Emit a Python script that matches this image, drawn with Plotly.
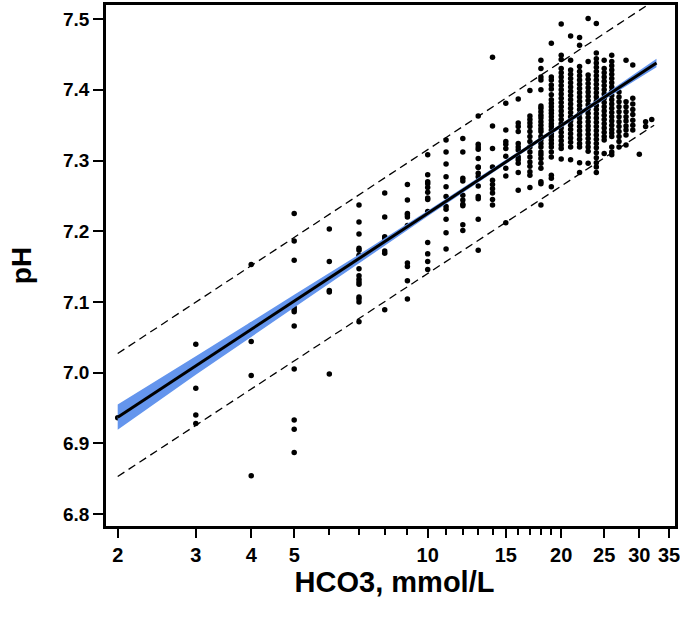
import plotly.graph_objects as go

# ---------------- data ----------------
hco3_levels = [2, 3, 4, 5, 6, 7, 8, 9, 10, 11, 12, 13, 14, 15, 16, 17, 18, 19,
               20, 21, 22, 23, 24, 25, 26, 27, 28, 29, 30, 31, 32]

ph_2 = [6.936]
ph_3 = [7.040, 7.017, 6.978, 6.940, 6.928]
ph_4 = [7.153, 7.067, 7.065, 7.044, 6.996, 6.854]
ph_5 = [7.225, 7.186, 7.159, 7.092, 7.089, 7.086, 7.066, 7.005, 6.933, 6.920, 6.887]
ph_6 = [7.203, 7.157, 7.116, 7.114, 6.998]
ph_7 = [7.237, 7.213, 7.196, 7.176, 7.173, 7.166, 7.163, 7.147, 7.137, 7.132,
        7.128, 7.125, 7.107, 7.104, 7.100, 7.072]
ph_8 = [7.254, 7.220, 7.192, 7.189, 7.172, 7.169, 7.089]
ph_9 = [7.266, 7.244, 7.225, 7.223, 7.220, 7.208, 7.155, 7.150, 7.130, 7.104]
ph_10 = [7.308, 7.280, 7.270, 7.267, 7.262, 7.255, 7.247, 7.245, 7.228, 7.184,
         7.168, 7.157, 7.146]
ph_11 = [7.329, 7.312, 7.295, 7.277, 7.263, 7.249, 7.235, 7.231, 7.217, 7.198, 7.175]
ph_12 = [7.331, 7.312, 7.275, 7.271, 7.251, 7.244, 7.238, 7.236, 7.209, 7.201]
ph_13 = [7.363, 7.323, 7.319, 7.316, 7.303, 7.291, 7.290, 7.282, 7.277, 7.264,
         7.249, 7.246, 7.217, 7.173]
ph_14 = [7.446, 7.349, 7.317, 7.291, 7.272, 7.266, 7.260, 7.254, 7.245, 7.237]
ph_15 = [7.381, 7.343, 7.327, 7.323, 7.317, 7.306, 7.289, 7.278, 7.212]
ph_16 = [7.387, 7.353, 7.348, 7.341, 7.324, 7.319, 7.315, 7.305, 7.301, 7.296,
         7.283, 7.258]
ph_17 = [7.399, 7.363, 7.358, 7.353, 7.348, 7.341, 7.334, 7.327, 7.319, 7.312,
         7.305, 7.298, 7.292, 7.284, 7.279, 7.262]
ph_18 = [7.442, 7.430, 7.418, 7.414, 7.400, 7.377, 7.374, 7.369, 7.364, 7.360,
         7.355, 7.350, 7.345, 7.341, 7.334, 7.329, 7.324, 7.319, 7.312, 7.308,
         7.303, 7.296, 7.289, 7.270, 7.267, 7.237]
ph_19 = [7.466, 7.418, 7.414, 7.407, 7.401, 7.393, 7.386, 7.381, 7.376, 7.371,
         7.367, 7.362, 7.357, 7.352, 7.348, 7.343, 7.338, 7.334, 7.329, 7.324,
         7.319, 7.312, 7.305, 7.279, 7.275, 7.263]
ph_20 = [7.493, 7.449, 7.443, 7.430, 7.424, 7.418, 7.412, 7.406, 7.400, 7.394,
         7.388, 7.382, 7.376, 7.370, 7.364, 7.358, 7.352, 7.346, 7.340, 7.334,
         7.328, 7.322, 7.317, 7.302]
ph_21 = [7.476, 7.442, 7.428, 7.422, 7.416, 7.410, 7.404, 7.398, 7.392, 7.386,
         7.380, 7.374, 7.368, 7.362, 7.356, 7.350, 7.344, 7.338, 7.332, 7.326,
         7.319, 7.301]
ph_22 = [7.474, 7.463, 7.433, 7.426, 7.420, 7.414, 7.408, 7.402, 7.396, 7.390,
         7.384, 7.378, 7.372, 7.366, 7.360, 7.354, 7.348, 7.342, 7.336, 7.330,
         7.324, 7.319, 7.297, 7.283]
ph_23 = [7.501, 7.440, 7.421, 7.415, 7.409, 7.403, 7.397, 7.391, 7.385, 7.379,
         7.373, 7.367, 7.361, 7.355, 7.349, 7.343, 7.337, 7.331, 7.325, 7.319,
         7.313, 7.296]
ph_24 = [7.494, 7.452, 7.444, 7.438, 7.432, 7.426, 7.420, 7.414, 7.408, 7.402,
         7.396, 7.390, 7.384, 7.378, 7.372, 7.366, 7.360, 7.354, 7.348, 7.342,
         7.336, 7.330, 7.324, 7.318, 7.311, 7.304, 7.297, 7.291, 7.283]
ph_25 = [7.442, 7.430, 7.424, 7.418, 7.412, 7.406, 7.400, 7.394, 7.388, 7.382,
         7.376, 7.370, 7.364, 7.358, 7.352, 7.346, 7.340, 7.334, 7.329, 7.310]
ph_26 = [7.449, 7.440, 7.434, 7.428, 7.422, 7.416, 7.410, 7.404, 7.398, 7.392,
         7.386, 7.380, 7.374, 7.368, 7.362, 7.356, 7.350, 7.344, 7.339, 7.334,
         7.319, 7.312, 7.308]
ph_27 = [7.397, 7.390, 7.383, 7.376, 7.369, 7.362, 7.355, 7.348, 7.341, 7.334,
         7.327, 7.319]
ph_28 = [7.442, 7.383, 7.376, 7.369, 7.362, 7.356, 7.349, 7.343, 7.336, 7.322]
ph_29 = [7.435, 7.388, 7.380, 7.372, 7.365, 7.357, 7.350, 7.343]
ph_30 = [7.309]
ph_31 = [7.355, 7.348]
ph_32 = [7.358]

ph_columns = [ph_2, ph_3, ph_4, ph_5, ph_6, ph_7, ph_8, ph_9, ph_10, ph_11, ph_12,
              ph_13, ph_14, ph_15, ph_16, ph_17, ph_18, ph_19, ph_20, ph_21, ph_22,
              ph_23, ph_24, ph_25, ph_26, ph_27, ph_28, ph_29, ph_30, ph_31, ph_32]

# regression line and its confidence band
fit_x = [2, 32.8]
fit_ph = [6.937, 7.438]
band_x = [2, 3, 5, 7, 10, 15, 20, 25, 32.8]
band_lower = [6.919, 6.997, 7.092, 7.155, 7.221, 7.295, 7.346, 7.386, 7.432]
band_upper = [6.955, 7.023, 7.110, 7.167, 7.229, 7.301, 7.352, 7.393, 7.444]

# prediction interval (dashed)
pi_upper_x = [2, 36]
pi_upper_ph = [7.027, 7.545]
pi_lower_x = [2, 32.4]
pi_lower_ph = [6.853, 7.350]

# axis ticks
x_tickvals = [2, 3, 4, 5, 10, 15, 20, 25, 30, 35]
x_ticktext = ["2", "3", "4", "5", "10", "15", "20", "25", "30", "35"]
x_minor_ticks = [6, 7, 8, 9, 11, 12, 13, 14, 16, 17, 18, 19]
y_tickvals = [6.8, 6.9, 7.0, 7.1, 7.2, 7.3, 7.4, 7.5]
y_ticktext = ["6.8", "6.9", "7.0", "7.1", "7.2", "7.3", "7.4", "7.5"]

# ---------------- build figure ----------------
pts_x, pts_y = [], []
for lvl, col in zip(hco3_levels, ph_columns):
    pts_x.extend([lvl] * len(col))
    pts_y.extend(col)

FONT = "Liberation Sans, Arial, sans-serif"

fig = go.Figure()

fig.add_trace(go.Scatter(
    x=pts_x, y=pts_y, mode="markers",
    marker=dict(color="black", size=5.5, line=dict(width=0)),
    hoverinfo="skip", showlegend=False, cliponaxis=True))

fig.add_trace(go.Scatter(
    x=band_x, y=band_lower, mode="lines", line=dict(width=0, color="#6495ED"),
    hoverinfo="skip", showlegend=False))
fig.add_trace(go.Scatter(
    x=band_x, y=band_upper, mode="lines", line=dict(width=0, color="#6495ED"),
    fill="tonexty", fillcolor="#6495ED", hoverinfo="skip", showlegend=False))

fig.add_trace(go.Scatter(
    x=fit_x, y=fit_ph, mode="lines", line=dict(color="black", width=3),
    hoverinfo="skip", showlegend=False))

for xs, ys in [(pi_upper_x, pi_upper_ph), (pi_lower_x, pi_lower_ph)]:
    fig.add_trace(go.Scatter(
        x=xs, y=ys, mode="lines",
        line=dict(color="black", width=1.3, dash="8px,5px"),
        hoverinfo="skip", showlegend=False))

x_lo, x_hi = 0.27465, 1.5576
y_lo, y_hi = 6.783, 7.520

fig.update_layout(
    width=680, height=623,
    margin=dict(l=106, r=5, t=5, b=97, autoexpand=False),
    paper_bgcolor="white", plot_bgcolor="white",
    font=dict(family=FONT, color="black"),
    showlegend=False,
)

fig.update_xaxes(
    type="log", range=[x_lo, x_hi], automargin=False,
    tickvals=x_tickvals, ticktext=x_ticktext, ticklabeloverflow="allow",
    ticks="outside", ticklen=9, tickwidth=2, tickcolor="black",
    tickfont=dict(family=FONT, size=20, color="black", weight="bold"),
    minor=dict(tickvals=x_minor_ticks, ticks="outside", ticklen=6,
               tickwidth=2, tickcolor="black", showgrid=False),
    showline=True, linewidth=2.5, linecolor="black", mirror=True,
    showgrid=False, zeroline=False,
    title=dict(text="&nbsp;HCO3, mmol/L", standoff=6,
               font=dict(family=FONT, size=29, color="black", weight="bold")),
)
fig.update_yaxes(
    range=[y_lo, y_hi], automargin=False,
    tickvals=y_tickvals, ticktext=y_ticktext,
    ticks="outside", ticklen=10, tickwidth=2, tickcolor="black",
    tickfont=dict(family=FONT, size=19, color="black", weight="bold"),
    showline=True, linewidth=2.5, linecolor="black", mirror=True,
    showgrid=False, zeroline=False,
    title=dict(text="pH", standoff=24,
               font=dict(family=FONT, size=28, color="black", weight="bold")),
)

fig.write_html("out.html",
               config={"displayModeBar": False},
               post_script="document.body.style.margin='0px';"
                           "document.body.style.overflow='hidden';")
